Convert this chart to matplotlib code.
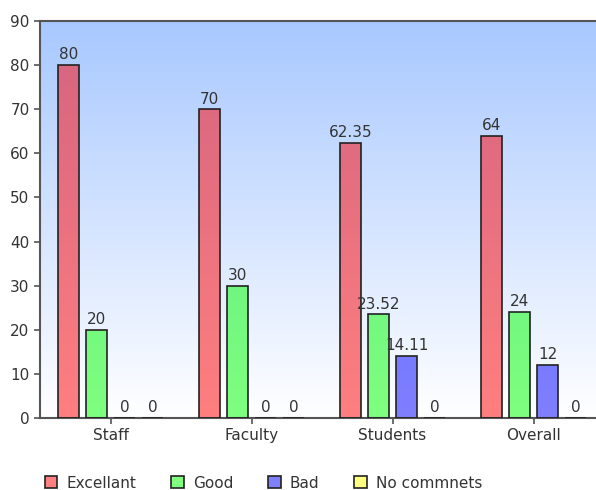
import numpy as np
import matplotlib
matplotlib.use('Agg')
import matplotlib.pyplot as plt
from matplotlib.patches import Patch

groups = ['Staff', 'Faculty', 'Students', 'Overall']
series = ['Excellant', 'Good', 'Bad', 'No commnets']
excellant = [80, 70, 62.35, 64]
good = [20, 30, 23.52, 24]
bad = [0, 0, 14.11, 12]
no_comments = [0, 0, 0, 0]
values = [excellant, good, bad, no_comments]
colors = ['#ff0000', '#00ff00', '#0000ff', '#ffff00']
label_text = ['80', '70', '62.35', '64'], ['20', '30', '23.52', '24'], ['0', '0', '14.11', '12'], ['0', '0', '0', '0']

W, H = 596, 490
fig = plt.figure(figsize=(W / 100, H / 100), dpi=100)
ax = fig.add_axes([40 / W, 1 - 418 / H, 564 / W, 397 / H])

# gradient background, light blue at the top fading to white
grad = np.linspace(0, 1, 256).reshape(-1, 1)
top = np.array([168, 200, 255]) / 255
bottom = np.array([255, 255, 255]) / 255
img = (top + (bottom - top) * grad[..., None]).reshape(256, 1, 3)
ax.imshow(img, extent=[0, 1, 0, 1], transform=ax.transAxes, aspect='auto', zorder=0)

x = np.arange(len(groups))
width = 0.15
offsets = [-0.3, -0.1, 0.1, 0.3]
for vals, col, off, labs in zip(values, colors, offsets, label_text):
    # half transparent fill so the background shows through
    ax.bar(x + off, vals, width, color=col, alpha=0.5, edgecolor='none', zorder=2)
    ax.bar(x + off, vals, width, facecolor='none', edgecolor='#222222', linewidth=1.2, zorder=3)
    for xi, v, t in zip(x, vals, labs):
        ax.text(xi + off, v + 0.6, t, ha='center', va='bottom', fontsize=11,
                color='#333333', zorder=4)

ax.set_xlim(-0.5, 3.5)
ax.set_ylim(0, 90)
ax.set_yticks(np.arange(0, 91, 10))
ax.set_xticks(x)
ax.set_xticklabels(groups)
ax.tick_params(axis='both', labelsize=11, labelcolor='#333333', color='#555555',
               length=4, width=1.2, direction='out')
for s in ax.spines.values():
    s.set_color('#555555')
    s.set_linewidth(1.5)
ax.spines['right'].set_visible(False)

handles = [Patch(facecolor=tuple(0.5 + 0.5 * np.array(matplotlib.colors.to_rgb(c))),
                 edgecolor='#222222', linewidth=1.2) for c in colors]
fig.legend(handles, series, loc='center left', bbox_to_anchor=(45 / W, 1 - 483 / H),
           ncol=4, frameon=False, fontsize=11, handlelength=0.8, handleheight=0.8,
           handletextpad=0.6, columnspacing=2.3, borderpad=0, borderaxespad=0,
           labelcolor='#333333')

fig.savefig('out.png', dpi=100)
